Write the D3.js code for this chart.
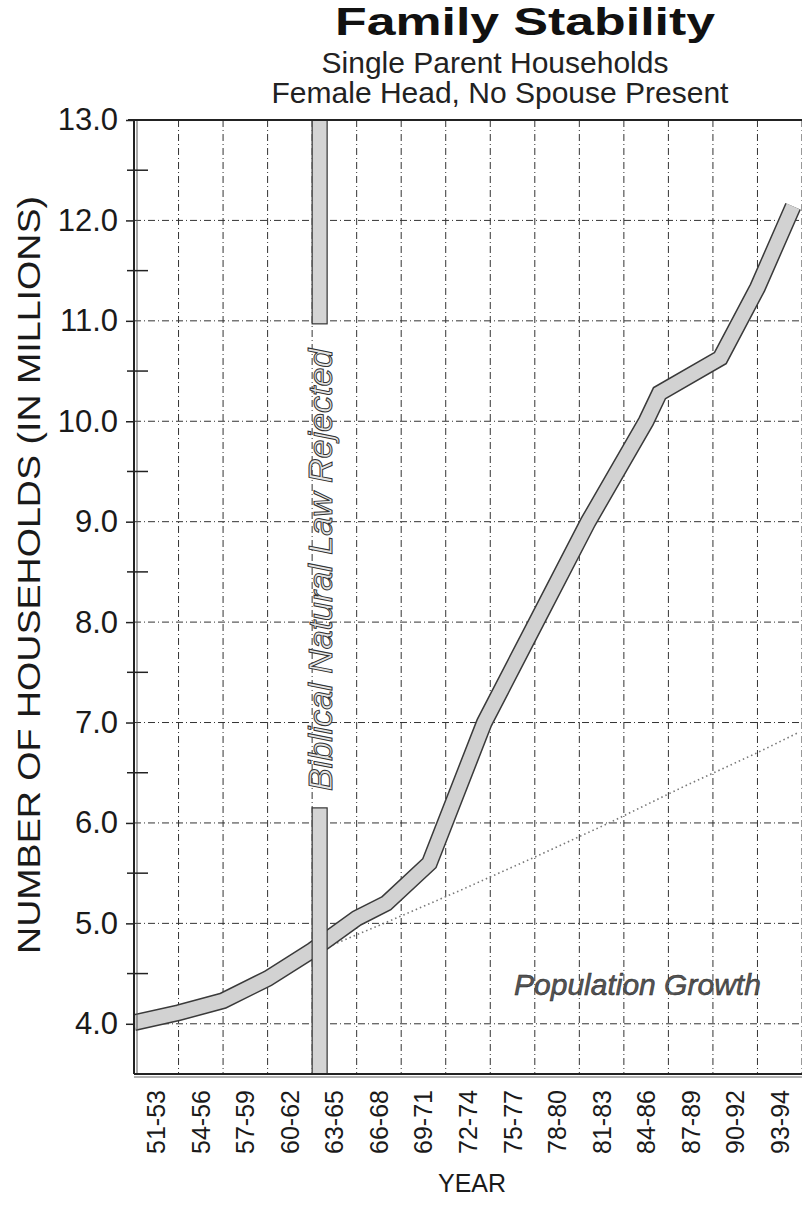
<!DOCTYPE html>
<html>
<head>
<meta charset="utf-8">
<script src="https://cdn.jsdelivr.net/npm/d3@7"></script>
<style>
  html, body { margin: 0; padding: 0; background: #fff; }
  svg { display: block; font-family: "Liberation Sans", Arial, Helvetica, sans-serif; }
</style>
</head>
<body>
<svg id="chart" width="802" height="1211"></svg>
<script>
// ---------- DATA ----------
const periodLabels = ["51-53","54-56","57-59","60-62","63-65","66-68","69-71","72-74","75-77","78-80","81-83","84-86","87-89","90-92","93-94"];
const periodStartYears = [1951,1954,1957,1960,1963,1966,1969,1972,1975,1978,1981,1984,1987,1990,1993];
const yTickValues = [4,5,6,7,8,9,10,11,12,13];
const yMinorTicks = [4.5,5.5,6.5,7.5,8.5,9.5,10.5,11.5,12.5];

// single-parent (female head) households, millions
const householdYears  = [1951, 1954, 1957, 1960, 1963, 1966, 1968, 1970.9, 1974.6, 1978.1, 1981.6, 1985.5, 1986.4, 1990.5, 1993.0, 1995.4];
const householdValues = [4.01, 4.11, 4.23, 4.45, 4.73, 5.05, 5.20, 5.60,   7.00,   8.00,   9.00,   10.00,  10.28,  10.63,  11.33,  12.14];

// population-growth reference line, millions
const populationYears  = [1963, 1968, 1973, 1978, 1983, 1988, 1993, 1995.75];
const populationValues = [4.70, 5.01, 5.33, 5.66, 6.00, 6.36, 6.70, 6.90];

// annotation band (year) and its text
const rejectedYear = 1963;
const rejectedText = "Biblical Natural Law Rejected";
const bandTopEnd = 10.97;
const bandBottomStart = 6.15;

// ---------- LAYOUT ----------
const svg = d3.select("#chart");
const x0 = 134, x1 = 802, yTop = 120, yBot = 1074;
const x = d3.scaleLinear().domain([1951, 1996]).range([x0, x1]);
const y = d3.scaleLinear().domain([3.5, 13]).range([yBot, yTop]);

// titles
svg.append("text").attr("x", 525).attr("y", 35).attr("text-anchor", "middle")
  .attr("font-size", 38).attr("font-weight", "bold")
  .attr("textLength", 380).attr("lengthAdjust", "spacingAndGlyphs")
  .attr("fill", "#111").text("Family Stability");
svg.append("text").attr("x", 495).attr("y", 73).attr("text-anchor", "middle")
  .attr("font-size", 30).attr("fill", "#222").text("Single Parent Households");
svg.append("text").attr("x", 500).attr("y", 103).attr("text-anchor", "middle")
  .attr("font-size", 30).attr("fill", "#222").text("Female Head, No Spouse Present");

const gridColor = "#333";
const g = svg.append("g");

svg.append("defs").append("clipPath").attr("id", "plotclip")
  .append("rect").attr("x", x0).attr("y", yTop).attr("width", x1 - x0).attr("height", yBot - yTop);

// horizontal gridlines
g.selectAll("line.hgrid").data(yTickValues.filter(v => v < 13)).join("line")
  .attr("x1", x0).attr("x2", x1).attr("y1", d => y(d)).attr("y2", d => y(d))
  .attr("stroke", gridColor).attr("stroke-width", 1).attr("stroke-dasharray", "7,3,1,3");

// vertical gridlines at period boundaries
g.selectAll("line.vgrid").data(periodStartYears.slice(1).concat([1996])).join("line")
  .attr("x1", d => x(d)).attr("x2", d => x(d)).attr("y1", yTop).attr("y2", yBot)
  .attr("stroke", gridColor).attr("stroke-width", 1).attr("stroke-dasharray", "7,3,1,3");

// population growth dotted line
const line = d3.line().x(d => x(d[0])).y(d => y(d[1]));
const popData = populationYears.map((yr, i) => [yr, populationValues[i]]);
g.append("path").datum(popData).attr("d", line)
  .attr("fill", "none").attr("stroke", "#777").attr("stroke-width", 1.6)
  .attr("stroke-dasharray", "1.5,3").attr("clip-path", "url(#plotclip)");

// main thick line
const hhData = householdYears.map((yr, i) => [yr, householdValues[i]]);
const mainG = g.append("g").attr("clip-path", "url(#plotclip)");
mainG.append("path").datum(hhData).attr("d", line)
  .attr("fill", "none").attr("stroke", "#3a3a3a").attr("stroke-width", 17)
  .attr("stroke-linejoin", "miter");
mainG.append("path").datum(hhData).attr("d", line)
  .attr("fill", "none").attr("stroke", "#d2d2d2").attr("stroke-width", 14)
  .attr("stroke-linejoin", "miter");

// vertical annotation band
const bx = x(rejectedYear), bw = 15;
g.append("rect").attr("x", bx).attr("y", yTop).attr("width", bw).attr("height", y(bandTopEnd) - yTop)
  .attr("fill", "#d4d4d4").attr("stroke", "#333").attr("stroke-width", 1.2);
g.append("rect").attr("x", bx).attr("y", y(bandBottomStart)).attr("width", bw).attr("height", yBot - y(bandBottomStart))
  .attr("fill", "#d4d4d4").attr("stroke", "#333").attr("stroke-width", 1.2);
const tcY = (y(bandTopEnd) + y(bandBottomStart)) / 2 + 4;
g.append("text").attr("transform", `translate(${bx + bw / 2 + 12},${tcY}) rotate(-90)`)
  .attr("text-anchor", "middle").attr("font-size", 34).attr("font-style", "italic")
  .attr("fill", "#e6e6e6").attr("stroke", "#333").attr("stroke-width", 1)
  .text(rejectedText);

// population growth label
g.append("text").attr("x", 514).attr("y", 995).attr("font-size", 30).attr("font-style", "italic")
  .attr("fill", "#555").attr("stroke", "#222").attr("stroke-width", 0.5).text("Population Growth");

// frame
g.append("line").attr("x1", x0).attr("x2", x0).attr("y1", yTop).attr("y2", yBot).attr("stroke", "#222").attr("stroke-width", 2);
g.append("line").attr("x1", x0 + 3).attr("x2", x0 + 3).attr("y1", yTop).attr("y2", yBot).attr("stroke", "#555").attr("stroke-width", 1);
g.append("line").attr("x1", x0 - 6).attr("x2", x1).attr("y1", yTop).attr("y2", yTop).attr("stroke", "#222").attr("stroke-width", 2);
g.append("line").attr("x1", x0).attr("x2", x1).attr("y1", yBot).attr("y2", yBot).attr("stroke", "#222").attr("stroke-width", 2);
g.append("line").attr("x1", x0).attr("x2", x1).attr("y1", yBot + 3).attr("y2", yBot + 3).attr("stroke", "#666").attr("stroke-width", 1);

// y axis ticks + labels
const yAxis = d3.axisLeft(y).tickValues(yTickValues).tickSize(8).tickFormat(d3.format(".1f"));
const ya = svg.append("g").attr("transform", `translate(${x0},0)`).call(yAxis);
ya.select(".domain").remove();
ya.selectAll(".tick line").attr("stroke", "#222").attr("stroke-width", 1.5);
ya.selectAll(".tick text").attr("font-size", 31).attr("fill", "#1a1a1a").attr("x", -16)
  .attr("font-family", "'Liberation Sans', Arial, sans-serif");
svg.append("g").selectAll("line").data(yMinorTicks).join("line")
  .attr("x1", x0 - 7).attr("x2", x0 + 14).attr("y1", d => y(d)).attr("y2", d => y(d))
  .attr("stroke", "#222").attr("stroke-width", 1.5);

// x axis labels (band centers)
const xa = svg.append("g");
xa.selectAll("text").data(periodLabels).join("text")
  .attr("transform", (d, i) => `translate(${x(periodStartYears[i] + 1.5) + 9},1090) rotate(-90)`)
  .attr("text-anchor", "end").attr("font-size", 25).attr("fill", "#1a1a1a").text(d => d);

// axis titles
svg.append("text").attr("x", 472).attr("y", 1192).attr("text-anchor", "middle")
  .attr("font-size", 25).attr("fill", "#1a1a1a").text("YEAR");
svg.append("text").attr("transform", `translate(40,575) rotate(-90)`).attr("text-anchor", "middle")
  .attr("font-size", 32).attr("textLength", 758).attr("lengthAdjust", "spacingAndGlyphs")
  .attr("fill", "#1a1a1a").text("NUMBER OF HOUSEHOLDS (IN MILLIONS)");
</script>
</body>
</html>
